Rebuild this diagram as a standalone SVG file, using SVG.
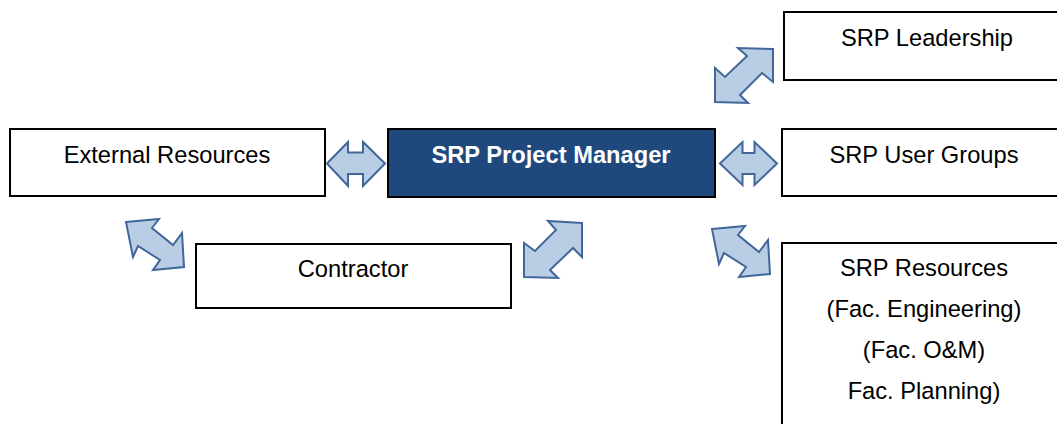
<svg xmlns="http://www.w3.org/2000/svg" width="1057" height="424" viewBox="0 0 1057 424">
<style>
.box{fill:#ffffff;stroke:#000000;stroke-width:2}
.pm{fill:#1F497D;stroke:#000000;stroke-width:2}
.t{font-family:"Liberation Sans",Arial,sans-serif;font-size:23.7px;fill:#000000;text-anchor:middle}
.tb{font-family:"Liberation Sans",Arial,sans-serif;font-size:23.7px;font-weight:bold;fill:#ffffff;text-anchor:middle}
.arr{fill:#B9CDE5;stroke:#41679A;stroke-width:2;stroke-linejoin:miter}
</style>
<rect width="1057" height="424" fill="#ffffff"/>
<g id="leadership">
<rect class="box" x="784" y="12" width="290" height="68"/>
<text class="t" x="927" y="46">SRP Leadership</text>
</g>
<g id="external">
<rect class="box" x="10" y="129" width="315" height="67"/>
<text class="t" x="167" y="163">External Resources</text>
</g>
<g id="pm">
<rect class="pm" x="388" y="129" width="327" height="68"/>
<text class="tb" x="551" y="163">SRP Project Manager</text>
</g>
<g id="usergroups">
<rect class="box" x="782" y="129" width="290" height="67"/>
<text class="t" x="924" y="163">SRP User Groups</text>
</g>
<g id="contractor">
<rect class="box" x="196" y="244" width="315" height="64"/>
<text class="t" x="353" y="277">Contractor</text>
</g>
<g id="resources">
<rect class="box" x="782" y="243" width="290" height="200"/>
<text class="t" x="924" y="276">SRP Resources</text>
<text class="t" x="924" y="317">(Fac. Engineering)</text>
<text class="t" x="924" y="358">(Fac. O&amp;M)</text>
<text class="t" x="924" y="399">Fac. Planning)</text>
</g>
<g id="connectors">
<polygon class="arr" points="327,163.5 348,142 348,152.5 363,152.5 363,142 385,163.5 363,186 363,174 348,174 348,186"/>
<polygon class="arr" points="720,163.5 742.5,142 742.5,153 754.5,153 754.5,142 777,163.5 754.5,185 754.5,174 742.5,174 742.5,185"/>
<polygon class="arr" points="773,49 738,48 747,56 725,77 715,68 715,102 748,103 740,95 762,73 773,82"/>
<polygon class="arr" points="582,223 548,221 556,230 535,251 524,243 524,277 558,278 550,270 573,248 582,257"/>
<polygon class="arr" points="126,222 159,219 152,228 173,245 182,233 184,267 153,270 160,260 138,246 133,257"/>
<polygon class="arr" points="712,229 745,226 738,235 759,252 768,240 770,274 739,277 746,267 724,253 719,264"/>
</g>
</svg>
